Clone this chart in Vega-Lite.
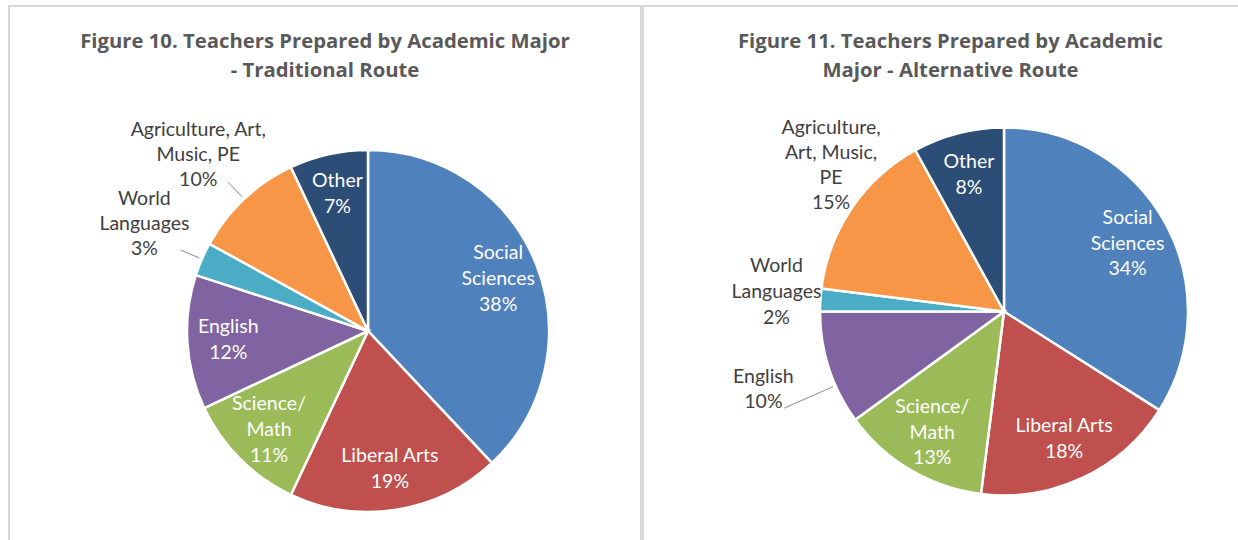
{
  "$schema": "https://vega.github.io/schema/vega-lite/v6.json",
  "background": "white",
  "padding": {"left": 8, "top": 5, "right": 0, "bottom": 0},
  "spacing": 0,
  "config": {
    "view": {"stroke": "#D9D9D9", "strokeWidth": 2},
    "title": {"font": "Open Sans", "fontSize": 20.3, "fontWeight": "bold", "color": "#595959", "anchor": "middle", "frame": "group", "lineHeight": 29}
  },
  "datasets": {
    "traditional": [
      {"major": "Social Sciences", "label": "Social\nSciences", "pct": 38},
      {"major": "Liberal Arts", "label": "Liberal Arts", "pct": 19},
      {"major": "Science/Math", "label": "Science/\nMath", "pct": 11},
      {"major": "English", "label": "English", "pct": 12},
      {"major": "World Languages", "label": "World\nLanguages", "pct": 3},
      {"major": "Agriculture, Art, Music, PE", "label": "Agriculture, Art,\nMusic, PE", "pct": 10},
      {"major": "Other", "label": "Other", "pct": 7}
    ],
    "alternative": [
      {"major": "Social Sciences", "label": "Social\nSciences", "pct": 34},
      {"major": "Liberal Arts", "label": "Liberal Arts", "pct": 18},
      {"major": "Science/Math", "label": "Science/\nMath", "pct": 13},
      {"major": "English", "label": "English", "pct": 10},
      {"major": "World Languages", "label": "World\nLanguages", "pct": 2},
      {"major": "Agriculture, Art, Music, PE", "label": "Agriculture,\nArt, Music,\nPE", "pct": 15},
      {"major": "Other", "label": "Other", "pct": 8}
    ]
  },
  "hconcat": [
    {
      "width": 632,
      "height": 560,
      "view": {"stroke": "#D9D9D9", "strokeWidth": 2},
      "data": {"name": "traditional"},
      "title": {"text": ["Figure 10. Teachers Prepared by Academic Major", "- Traditional Route"], "offset": -75},
      "transform": [
        {"stack": "pct", "groupby": [], "as": ["s0", "s1"]},
        {"calculate": "(datum.s0 + datum.s1) / 2", "as": "mid"},
        {"calculate": "datum.label + '\\n' + datum.pct + '%'", "as": "txt"}
      ],
      "layer": [
        {
          "mark": {"type": "arc", "radius": 181, "stroke": "white", "strokeWidth": 2.5, "x": 359, "y": 325},
          "encoding": {
            "theta": {"field": "s0", "type": "quantitative", "stack": null, "scale": {"domain": [0, 100]}},
            "theta2": {"field": "s1"},
            "color": {
              "field": "major", "type": "nominal", "legend": null,
              "scale": {
                "domain": ["Social Sciences", "Liberal Arts", "Science/Math", "English", "World Languages", "Agriculture, Art, Music, PE", "Other"],
                "range": ["#4F81BD", "#C0504D", "#9BBB59", "#8064A2", "#4BACC6", "#F79646", "#2C4D75"]
              }
            }
          }
        },
        {
          "transform": [{"filter": "indexof(['World Languages', 'Agriculture, Art, Music, PE'], datum.major) >= 0"}],
          "mark": {"type": "arc", "innerRadius": 184, "outerRadius": 204, "fill": null, "stroke": "#A6A6A6", "strokeWidth": 1, "x": 359, "y": 325},
          "encoding": {
            "theta": {"field": "mid", "type": "quantitative", "stack": null, "scale": {"domain": [0, 100]}},
            "theta2": {"field": "mid"}
          }
        },
        {
          "transform": [{"filter": "indexof(['World Languages', 'Agriculture, Art, Music, PE'], datum.major) < 0"}],
          "mark": {"type": "text", "radius": 140, "lineBreak": "\n", "font": "Lato", "fontSize": 19.5, "lineHeight": 26, "fill": "white", "align": "center", "baseline": "middle", "x": 359, "y": 325, "dy": {"expr": "-(length(split(datum.txt, '\\n')) - 1) * 13"}},
          "encoding": {
            "theta": {"field": "mid", "type": "quantitative", "stack": null, "scale": {"domain": [0, 100]}},
            "text": {"field": "txt"}
          }
        },
        {
          "transform": [{"filter": "datum.major == 'Agriculture, Art, Music, PE'"}],
          "mark": {"type": "text", "radius": 248, "dy": -20, "lineBreak": "\n", "font": "Lato", "fontSize": 19.5, "lineHeight": 25, "fill": "#404040", "align": "center", "baseline": "middle", "x": 359, "y": 325},
          "encoding": {
            "theta": {"field": "mid", "type": "quantitative", "stack": null, "scale": {"domain": [0, 100]}},
            "text": {"field": "txt"}
          }
        },
        {
          "transform": [{"filter": "datum.major == 'World Languages'"}],
          "mark": {"type": "text", "radius": 248, "dx": 4, "dy": -34, "lineBreak": "\n", "font": "Lato", "fontSize": 19.5, "lineHeight": 25, "fill": "#404040", "align": "center", "baseline": "middle", "x": 359, "y": 325},
          "encoding": {
            "theta": {"field": "mid", "type": "quantitative", "stack": null, "scale": {"domain": [0, 100]}},
            "text": {"field": "txt"}
          }
        }
      ]
    },
    {
      "width": 615,
      "height": 560,
      "view": {"stroke": "#D9D9D9", "strokeWidth": 2},
      "data": {"name": "alternative"},
      "title": {"text": ["Figure 11. Teachers Prepared by Academic", "Major - Alternative Route"], "offset": -75},
      "transform": [
        {"stack": "pct", "groupby": [], "as": ["s0", "s1"]},
        {"calculate": "(datum.s0 + datum.s1) / 2", "as": "mid"},
        {"calculate": "datum.label + '\\n' + datum.pct + '%'", "as": "txt"}
      ],
      "layer": [
        {
          "mark": {"type": "arc", "radius": 184, "stroke": "white", "strokeWidth": 2.5, "x": 361, "y": 305.5},
          "encoding": {
            "theta": {"field": "s0", "type": "quantitative", "stack": null, "scale": {"domain": [0, 100]}},
            "theta2": {"field": "s1"},
            "color": {
              "field": "major", "type": "nominal", "legend": null,
              "scale": {
                "domain": ["Social Sciences", "Liberal Arts", "Science/Math", "English", "World Languages", "Agriculture, Art, Music, PE", "Other"],
                "range": ["#4F81BD", "#C0504D", "#9BBB59", "#8064A2", "#4BACC6", "#F79646", "#2C4D75"]
              }
            }
          }
        },
        {
          "transform": [{"filter": "datum.major == 'English'"}],
          "mark": {"type": "arc", "innerRadius": 187, "outerRadius": 240, "thetaOffset": -0.1, "theta2Offset": -0.1, "fill": null, "stroke": "#A6A6A6", "strokeWidth": 1, "x": 361, "y": 305.5},
          "encoding": {
            "theta": {"field": "mid", "type": "quantitative", "stack": null, "scale": {"domain": [0, 100]}},
            "theta2": {"field": "mid"}
          }
        },
        {
          "transform": [{"filter": "indexof(['World Languages', 'Agriculture, Art, Music, PE', 'English'], datum.major) < 0"}],
          "mark": {"type": "text", "radius": 141, "lineBreak": "\n", "font": "Lato", "fontSize": 19.5, "lineHeight": 25.5, "fill": "white", "align": "center", "baseline": "middle", "x": 361, "y": 305.5, "dy": {"expr": "-(length(split(datum.txt, '\\n')) - 1) * 12.75"}},
          "encoding": {
            "theta": {"field": "mid", "type": "quantitative", "stack": null, "scale": {"domain": [0, 100]}},
            "text": {"field": "txt"}
          }
        },
        {
          "transform": [{"filter": "datum.major == 'World Languages'"}],
          "mark": {"type": "text", "radius": 222, "dx": -6, "dy": -32, "lineBreak": "\n", "font": "Lato", "fontSize": 19.5, "lineHeight": 26, "fill": "#404040", "align": "center", "baseline": "middle", "x": 361, "y": 305.5},
          "encoding": {
            "theta": {"field": "mid", "type": "quantitative", "stack": null, "scale": {"domain": [0, 100]}},
            "text": {"field": "txt"}
          }
        },
        {
          "transform": [{"filter": "datum.major == 'Agriculture, Art, Music, PE'"}],
          "mark": {"type": "text", "radius": 226, "dx": 14, "dy": -56, "lineBreak": "\n", "font": "Lato", "fontSize": 19.5, "lineHeight": 25, "fill": "#404040", "align": "center", "baseline": "middle", "x": 361, "y": 305.5},
          "encoding": {
            "theta": {"field": "mid", "type": "quantitative", "stack": null, "scale": {"domain": [0, 100]}},
            "text": {"field": "txt"}
          }
        },
        {
          "transform": [{"filter": "datum.major == 'English'"}],
          "mark": {"type": "text", "radius": 253, "dy": -12.5, "lineBreak": "\n", "font": "Lato", "fontSize": 19.5, "lineHeight": 25, "fill": "#404040", "align": "center", "baseline": "middle", "x": 361, "y": 305.5},
          "encoding": {
            "theta": {"field": "mid", "type": "quantitative", "stack": null, "scale": {"domain": [0, 100]}},
            "text": {"field": "txt"}
          }
        }
      ]
    }
  ]
}
